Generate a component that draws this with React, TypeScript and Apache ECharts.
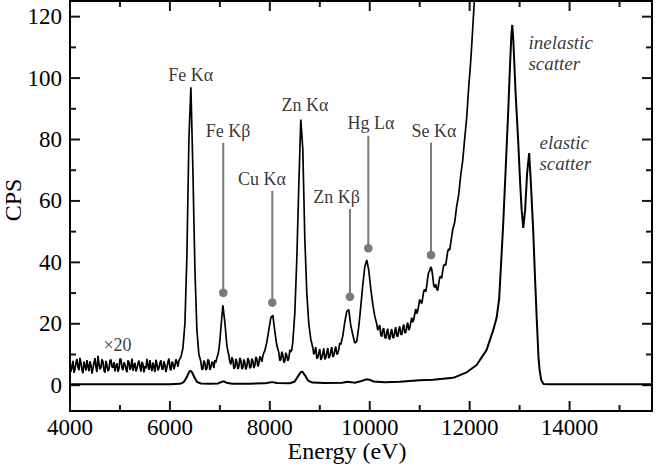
import React, { useEffect, useRef } from "react";
import * as echarts from "echarts";

const ENERGY_MIN = 4000;
const ENERGY_MAX = 15650;
const CPS_MIN = -8.4;
const CPS_MAX = 125.1;

// tick values
const xMajorTicks = [4000, 6000, 8000, 10000, 12000, 14000];
const xMinorTicks = [5000, 7000, 9000, 11000, 13000, 15000];
const yMajorTicks = [0, 20, 40, 60, 80, 100, 120];
const yMinorTicks = [10, 30, 50, 70, 90, 110];

// spectrum multiplied by 20 (noisy)
const spectrumX20: [number, number][] = [
  [3980, 6.6], [4000, 8.1], [4020, 4.4], [4040, 5.9], [4060, 7.9], [4080, 4.0], [4100, 5.3], [4120, 7.4],
  [4140, 8.5], [4160, 5.8], [4180, 4.9], [4200, 8.9], [4220, 7.2], [4240, 5.0], [4260, 3.9], [4280, 7.7],
  [4300, 6.3], [4320, 4.8], [4340, 8.2], [4360, 6.1], [4380, 4.6], [4400, 7.8], [4420, 6.5], [4440, 3.8],
  [4460, 5.5], [4480, 7.3], [4500, 8.8], [4520, 5.9], [4540, 4.3], [4560, 9.6], [4580, 7.0], [4600, 5.2],
  [4620, 5.8], [4640, 8.4], [4660, 7.6], [4680, 4.9], [4700, 4.1], [4720, 7.9], [4740, 6.4], [4760, 4.6],
  [4780, 5.2], [4800, 8.0], [4820, 8.3], [4840, 6.0], [4860, 5.7], [4880, 7.5], [4900, 4.5], [4920, 6.2],
  [4940, 7.1], [4960, 4.4], [4980, 5.4], [5000, 8.6], [5020, 8.4], [5040, 5.6], [5060, 4.9], [5080, 7.4],
  [5100, 6.7], [5120, 5.3], [5140, 4.2], [5160, 8.1], [5180, 7.5], [5200, 5.0], [5220, 6.0], [5240, 8.7],
  [5260, 4.7], [5280, 6.3], [5300, 7.3], [5320, 4.5], [5340, 5.4], [5360, 7.0], [5380, 8.0], [5400, 6.1],
  [5420, 4.4], [5440, 7.6], [5460, 6.8], [5480, 4.2], [5500, 6.2], [5520, 5.5], [5540, 8.6], [5560, 6.4],
  [5580, 5.0], [5600, 8.2], [5620, 5.9], [5640, 4.6], [5660, 7.4], [5680, 6.0], [5700, 4.3], [5720, 8.3],
  [5740, 6.9], [5760, 4.8], [5780, 5.6], [5800, 7.2], [5820, 8.1], [5840, 5.3], [5860, 5.1], [5880, 7.8],
  [5900, 6.5], [5920, 4.3], [5940, 5.8], [5960, 7.5], [5980, 8.7], [6000, 5.7], [6020, 4.8], [6040, 7.6],
  [6060, 7.2], [6080, 5.2], [6100, 6.3], [6120, 8.4], [6140, 7.7], [6160, 6.0],
  [6180, 8.0], [6220, 9.2], [6260, 12.0], [6300, 20], [6340, 42], [6380, 80], [6420, 97], [6460, 70],
  [6500, 38], [6540, 18], [6580, 10], [6600, 8.9], [6620, 7.6], [6640, 5.1], [6660, 5.3], [6680, 8.0],
  [6700, 7.2], [6720, 4.9], [6740, 5.5], [6760, 8.4], [6780, 7.9], [6800, 5.0], [6820, 5.8], [6840, 7.6],
  [6860, 7.3], [6880, 5.6], [6900, 8.2], [6920, 7.4], [6940, 9.0], [6960, 9.8], [6980, 11.5], [7000, 14.5],
  [7020, 18.5], [7060, 26], [7100, 20.5], [7140, 13], [7160, 11.2], [7180, 9.6], [7200, 7.6], [7220, 6.8],
  [7240, 9.1], [7260, 8.3], [7280, 5.4], [7300, 5.7], [7320, 8.6], [7340, 7.5], [7360, 5.2], [7380, 6.0],
  [7400, 8.9], [7420, 8.1], [7440, 5.3], [7460, 5.6], [7480, 8.4], [7500, 7.3], [7520, 5.1], [7540, 6.2],
  [7560, 8.8], [7580, 8.0], [7600, 5.5], [7620, 5.9], [7640, 8.7], [7660, 7.8], [7680, 5.6], [7700, 6.4],
  [7720, 9.2], [7740, 8.5], [7760, 6.1], [7780, 7.0], [7800, 9.4], [7820, 8.8], [7840, 7.6], [7860, 9.5],
  [7880, 10.6], [7900, 11.2], [7940, 14], [7980, 18], [8020, 22], [8060, 22.8], [8100, 17.5], [8140, 13],
  [8180, 10.6], [8200, 8.0], [8220, 8.4], [8240, 10.9], [8260, 9.9], [8280, 7.4], [8300, 7.8], [8320, 10.6],
  [8340, 9.6], [8360, 7.9], [8380, 8.7], [8400, 11.5], [8420, 10.8], [8440, 11.6], [8460, 14], [8500, 23.5],
  [8540, 41], [8580, 65], [8620, 86.5], [8660, 77], [8700, 48], [8740, 30], [8780, 20], [8820, 15],
  [8860, 12.2], [8880, 10.0], [8900, 11.0], [8920, 12.4], [8940, 8.6], [8960, 9.1], [8980, 10.5], [9000, 11.8],
  [9020, 8.2], [9040, 9.0], [9060, 10.3], [9080, 12.0], [9100, 8.4], [9120, 8.9], [9140, 10.7], [9160, 12.1],
  [9180, 8.8], [9200, 9.4], [9220, 11.0], [9240, 12.4], [9260, 9.2], [9280, 9.7], [9300, 11.3], [9320, 12.6],
  [9340, 10.0], [9360, 10.4], [9380, 11.6], [9400, 13.8], [9420, 13.2], [9460, 16], [9500, 20.5], [9540, 24],
  [9580, 24.6], [9620, 19.5], [9660, 16.5], [9700, 13.7], [9740, 14.3], [9780, 19], [9820, 25.5], [9860, 32.5],
  [9900, 38.5], [9940, 40.8], [9980, 37.5], [10020, 31.5], [10060, 26.5], [10100, 22.5], [10140, 20], [10160, 17.9],
  [10180, 18.7], [10200, 19.6], [10220, 16.5], [10240, 15.8], [10260, 17.9], [10280, 18.6], [10300, 15.7], [10320, 15.2],
  [10340, 17.3], [10360, 18.4], [10380, 15.4], [10400, 14.9], [10420, 17.1], [10440, 18.3], [10460, 15.6], [10480, 15.3],
  [10500, 17.5], [10520, 18.9], [10540, 16.1], [10560, 15.8], [10580, 18.0], [10600, 19.2], [10620, 16.6], [10640, 16.4],
  [10660, 18.5], [10680, 19.8], [10700, 17.0], [10720, 17.2], [10740, 19.1], [10760, 20.4], [10780, 17.9], [10800, 18.6],
  [10820, 20.3], [10840, 22.0], [10860, 20.5], [10880, 21.4], [10900, 23.1], [10920, 24.8], [10940, 23.3], [10960, 24.2],
  [10980, 26.0], [11000, 27.9], [11020, 27.2], [11040, 26.6], [11060, 28.4], [11080, 30.6], [11100, 31.2], [11120, 30.4],
  [11140, 32.2], [11160, 35.0], [11180, 36.8], [11200, 37.2], [11220, 38.5], [11240, 37.9], [11260, 35.5], [11280, 32.6],
  [11300, 31.8], [11320, 32.9], [11340, 31.4], [11360, 30.8], [11380, 33.0], [11400, 35.1], [11420, 35.4], [11440, 34.8],
  [11460, 37.2], [11480, 39.0], [11500, 39.4], [11520, 39.0], [11540, 41.2], [11560, 43.5], [11580, 44.4], [11600, 44.0],
  [11620, 46.2], [11660, 50.6], [11700, 53.0], [11740, 58.2], [11780, 62.0], [11820, 68.2], [11860, 73.0], [11900, 80.2],
  [11940, 87.0], [11980, 96.8], [12020, 105.2], [12060, 115.8], [12100, 127],
];

// measured spectrum (x1)
const spectrumX1: [number, number][] = [
  [4000, 0.3], [4400, 0.35], [4800, 0.3], [5200, 0.35], [5600, 0.3], [6000, 0.35], [6200, 0.45], [6270, 0.9],
  [6330, 2.4], [6380, 4.2], [6410, 4.7], [6440, 4.3], [6490, 2.6], [6540, 1.1], [6620, 0.55], [6800, 0.45],
  [6960, 0.55], [7040, 1.1], [7080, 1.25], [7130, 0.8], [7250, 0.5], [7600, 0.5], [7900, 0.6], [8020, 0.95],
  [8060, 1.0], [8140, 0.7], [8400, 0.65], [8500, 1.2], [8560, 2.8], [8620, 4.3], [8650, 4.4], [8700, 3.3],
  [8760, 1.6], [8850, 0.85], [9100, 0.7], [9450, 0.8], [9560, 1.1], [9620, 1.0], [9700, 0.8], [9820, 1.3],
  [9930, 1.9], [9990, 1.8], [10080, 1.2], [10300, 0.95], [10600, 1.1], [11000, 1.6], [11266, 1.8], [11672, 2.4],
  [11940, 4.2], [12140, 6.6], [12340, 11.5], [12473, 18], [12540, 22], [12590, 28], [12630, 40], [12670, 52],
  [12720, 70], [12773, 89.6], [12810, 105], [12835, 114], [12853, 117.3], [12875, 112], [12920, 95], [12973, 79],
  [13010, 66], [13041, 57], [13073, 51.2], [13110, 57], [13150, 69], [13191, 75.6], [13225, 66], [13273, 50],
  [13310, 34.3], [13341, 22.3], [13377, 9.3], [13400, 5], [13430, 1.8], [13477, 0.4], [13600, 0.3], [14000, 0.3],
  [14500, 0.3], [15000, 0.3], [15650, 0.3],
];

// peak annotations with leader lines
const peakNames = ["Fe Kβ", "Cu Kα", "Zn Kβ", "Hg Lα", "Se Kα"];
const peakEnergies = [7068, 8049, 9604, 9971, 11226];
const peakLineTop = [78.9, 63.3, 57.4, 81.2, 79];
const peakDot = [30.1, 26.9, 28.8, 44.6, 42.4];
const peakLabelEnergy = [7163, 7843, 9338, 10025, 11286];
const peakLabelCps = [82.8, 67.2, 61.4, 85.4, 82.8];

// labels without leader lines
const plainNames = ["Fe Kα", "Zn Kα", "×20"];
const plainEnergy = [6416, 8704, 4951];
const plainCps = [101, 91.2, 13.1];

// italic scatter labels
const scatterNames = ["inelastic\nscatter", "elastic\nscatter"];
const scatterEnergy = [13167, 13387];
const scatterCps = [108.3, 75.5];

const FONT = "'Liberation Serif', 'Times New Roman', serif";
const TICK_COLOR = "#151515";
const MAJOR_LEN = 10;
const MINOR_LEN = 6;

export default function App() {
  const ref = useRef<HTMLDivElement>(null);

  useEffect(() => {
    if (!ref.current) return;
    const chart = echarts.init(ref.current, undefined, { renderer: "svg" });

    const option: any = {
      animation: false,
      textStyle: { fontFamily: FONT },
      grid: { left: 70, right: 4, top: 1, bottom: 55, show: true, borderColor: "#000", borderWidth: 2 },
      xAxis: {
        type: "value",
        min: ENERGY_MIN,
        max: ENERGY_MAX,
        minInterval: 2000,
        maxInterval: 2000,
        axisLine: { show: true, onZero: false, lineStyle: { color: "#000", width: 2 } },
        axisTick: { show: false },
        splitLine: { show: false },
        axisLabel: {
          show: true,
          color: "#000",
          fontSize: 23,
          fontFamily: FONT,
          margin: 5,
          showMaxLabel: false,
          formatter: (v: number) => String(v),
        },
      },
      yAxis: {
        type: "value",
        min: CPS_MIN,
        max: CPS_MAX,
        minInterval: 20,
        maxInterval: 20,
        axisLine: { show: true, onZero: false, lineStyle: { color: "#000", width: 2 } },
        axisTick: { show: false },
        splitLine: { show: false },
        axisLabel: {
          show: true,
          color: "#000",
          fontSize: 23,
          fontFamily: FONT,
          margin: 8,
          showMinLabel: false,
          showMaxLabel: false,
          formatter: (v: number) => String(v),
        },
      },
      series: [
        // inward x ticks on bottom and top
        {
          type: "custom",
          clip: false,
          data: [
            ...xMajorTicks.map((v) => [v, 0, MAJOR_LEN]),
            ...xMinorTicks.map((v) => [v, 0, MINOR_LEN]),
          ],
          renderItem: (_p: any, api: any) => {
            const v = api.value(0);
            const len = api.value(2);
            const b = api.coord([v, CPS_MIN]);
            const t = api.coord([v, CPS_MAX]);
            return {
              type: "group",
              children: [
                { type: "rect", shape: { x: b[0] - 1, y: b[1] - len, width: 2, height: len }, style: { fill: TICK_COLOR } },
                { type: "rect", shape: { x: t[0] - 1, y: t[1], width: 2, height: len }, style: { fill: TICK_COLOR } },
              ],
            };
          },
        },
        // inward y ticks on left and right
        {
          type: "custom",
          clip: false,
          data: [
            ...yMajorTicks.map((v) => [ENERGY_MIN, v, MAJOR_LEN]),
            ...yMinorTicks.map((v) => [ENERGY_MIN, v, MINOR_LEN]),
          ],
          renderItem: (_p: any, api: any) => {
            const v = api.value(1);
            const len = api.value(2);
            const l = api.coord([ENERGY_MIN, v]);
            const r = api.coord([ENERGY_MAX, v]);
            return {
              type: "group",
              children: [
                { type: "rect", shape: { x: l[0], y: l[1] - 1, width: len, height: 2 }, style: { fill: TICK_COLOR } },
                { type: "rect", shape: { x: r[0] - len, y: r[1] - 1, width: len, height: 2 }, style: { fill: TICK_COLOR } },
              ],
            };
          },
        },
        {
          type: "line",
          name: "x20",
          data: spectrumX20,
          symbol: "none",
          showSymbol: false,
          lineStyle: { color: "#000", width: 1.7 },
        },
        {
          type: "line",
          name: "x1",
          data: spectrumX1,
          symbol: "none",
          showSymbol: false,
          lineStyle: { color: "#000", width: 2 },
        },
        // leader lines with dots
        {
          type: "custom",
          data: peakEnergies.map((e, i) => [e, peakLineTop[i], peakDot[i]]),
          renderItem: (_params: any, api: any) => {
            const e = api.value(0);
            const p1 = api.coord([e, api.value(1)]);
            const p2 = api.coord([e, api.value(2)]);
            return {
              type: "group",
              children: [
                {
                  type: "line",
                  shape: { x1: p1[0], y1: p1[1], x2: p2[0], y2: p2[1] },
                  style: { stroke: "#7a7a7a", lineWidth: 2 },
                },
                {
                  type: "circle",
                  shape: { cx: p2[0], cy: p2[1], r: 4.3 },
                  style: { fill: "#7a7a7a" },
                },
              ],
            };
          },
        },
        {
          type: "scatter",
          symbolSize: 1,
          itemStyle: { color: "rgba(0,0,0,0)" },
          data: [
            ...peakNames.map((n, i) => ({ name: n, value: [peakLabelEnergy[i], peakLabelCps[i]] })),
            ...plainNames.map((n, i) => ({ name: n, value: [plainEnergy[i], plainCps[i]] })),
          ],
          label: {
            show: true,
            position: "inside",
            formatter: "{b}",
            color: "#000",
            fontSize: 18,
            fontFamily: FONT,
          },
        },
        {
          type: "scatter",
          symbolSize: 1,
          itemStyle: { color: "rgba(0,0,0,0)" },
          data: scatterNames.map((n, i) => ({ name: n, value: [scatterEnergy[i], scatterCps[i]] })),
          label: {
            show: true,
            position: "right",
            distance: 0,
            formatter: "{b}",
            color: "#000",
            fontSize: 19,
            fontStyle: "italic",
            lineHeight: 21,
            align: "left",
            fontFamily: FONT,
          },
        },
      ],
      graphic: [
        {
          type: "text",
          x: 347,
          y: 451,
          style: {
            text: "Energy (eV)",
            fontSize: 24,
            fontFamily: FONT,
            fill: "#000",
            align: "center",
            verticalAlign: "middle",
          },
        },
        {
          type: "text",
          x: 13,
          y: 200,
          rotation: Math.PI / 2,
          style: {
            text: "CPS",
            fontSize: 24,
            fontFamily: FONT,
            fill: "#000",
            align: "center",
            verticalAlign: "middle",
          },
        },
      ],
    };

    chart.setOption(option);
    return () => chart.dispose();
  }, []);

  return <div ref={ref} style={{ position: "absolute", left: 0, top: 0, width: 656, height: 466 }} />;
}
